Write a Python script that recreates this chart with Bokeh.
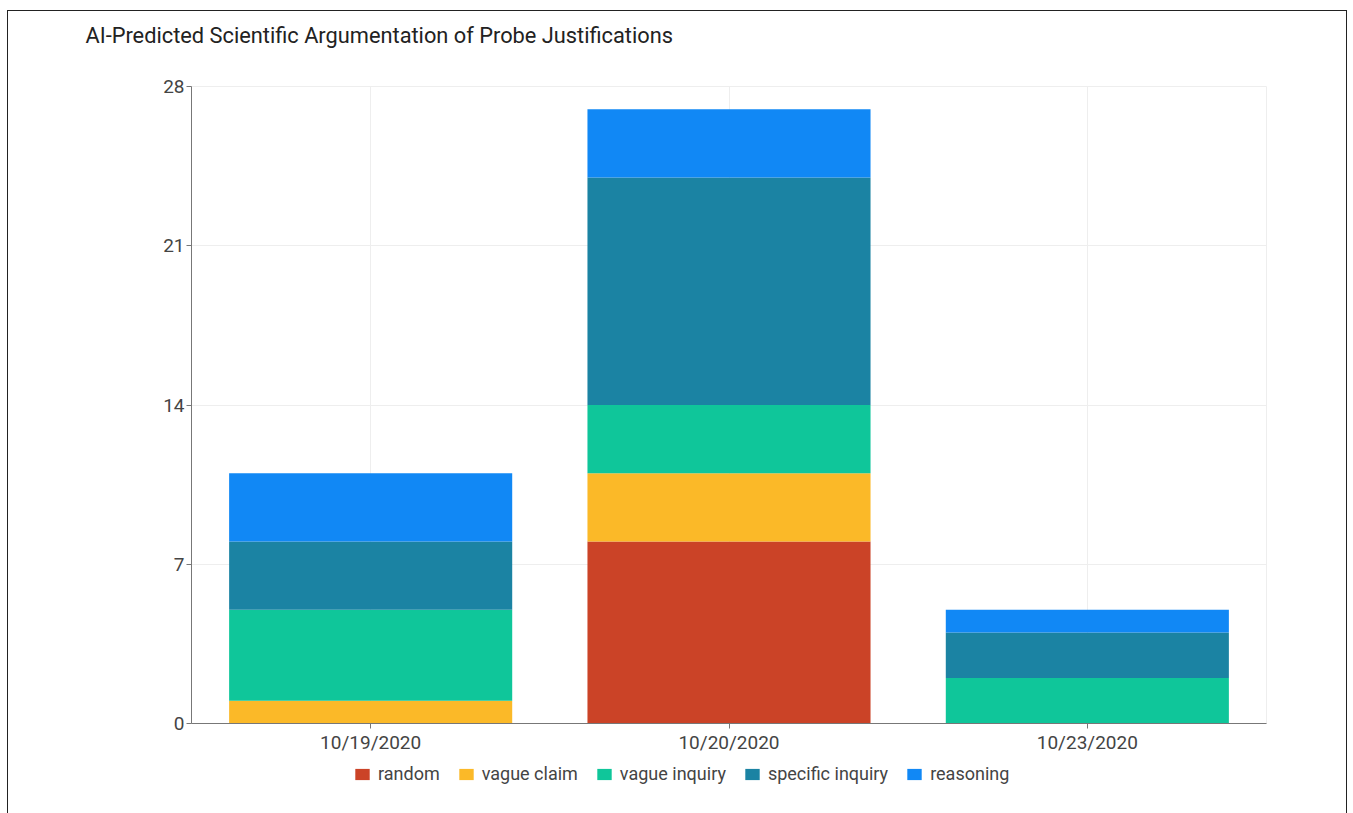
from bokeh.plotting import figure
from bokeh.models import ColumnDataSource, Legend, LegendItem, FixedTicker, Title, Range1d
from bokeh.layouts import column
from bokeh.embed import file_html
from bokeh.resources import INLINE

dates = ["10/19/2020", "10/20/2020", "10/23/2020"]
categories = ["random", "vague claim", "vague inquiry", "specific inquiry", "reasoning"]
random_vals = [0, 8, 0]
vague_claim = [1, 3, 0]
vague_inquiry = [4, 3, 2]
specific_inquiry = [3, 10, 2]
reasoning = [3, 3, 1]
y_ticks = [0, 7, 14, 21, 28]

colors = ["#cb4327", "#fbb928", "#0fc69a", "#1b83a3", "#1188f5"]
keys = ["random", "vague_claim", "vague_inquiry", "specific_inquiry", "reasoning"]

source = ColumnDataSource(dict(
    date=dates,
    random=random_vals,
    vague_claim=vague_claim,
    vague_inquiry=vague_inquiry,
    specific_inquiry=specific_inquiry,
    reasoning=reasoning,
))

FONT = "Roboto"
TXT = "#444444"

p = figure(x_range=dates, y_range=(0, 28), width=1338, height=682,
           output_backend="svg", toolbar_location=None,
           min_border_left=183, min_border_right=80, min_border_top=10,
           min_border_bottom=35)

renderers = p.vbar_stack(keys, x="date", width=0.79, color=colors, source=source,
                         line_width=0)

p.x_range.range_padding = 0

p.yaxis.ticker = FixedTicker(ticks=y_ticks)
p.yaxis.minor_tick_line_color = None
for ax in (p.xaxis[0], p.yaxis[0]):
    ax.axis_line_color = "#777777"
    ax.major_tick_line_color = "#777777"
    ax.major_tick_in = 0
    ax.major_tick_out = 5
    ax.major_label_text_font = FONT
    ax.major_label_text_font_size = "19px"
    ax.major_label_text_color = TXT
    ax.major_label_standoff = 2

p.xgrid.grid_line_color = "#eeeeee"
p.ygrid.grid_line_color = "#eeeeee"
p.outline_line_color = "#eeeeee"
p.background_fill_color = "white"
p.border_fill_color = "white"

# title strip above the chart
tf = figure(width=1338, height=65, output_backend="svg", toolbar_location=None,
            x_range=p.x_range, y_range=Range1d(0, 1), min_border=0)
tf.axis.visible = False
tf.grid.visible = False
tf.outline_line_color = None
tf.border_fill_color = "white"
tf.title = Title(text="AI-Predicted Scientific Argumentation of Probe Justifications",
                 align="left", offset=-106, text_font=FONT, text_font_size="21.8px",
                 text_font_style="normal", text_color="#222222", standoff=22,
                 vertical_align="top")

# legend strip below the chart (proxy bars drawn outside its visible range)
lf = figure(width=1338, height=56, output_backend="svg", toolbar_location=None,
            x_range=p.x_range, y_range=Range1d(100, 101), min_border=0)
lf.axis.visible = False
lf.grid.visible = False
lf.outline_line_color = None
lf.border_fill_color = "white"
leg_renderers = lf.vbar_stack(keys, x="date", width=0.79, color=colors, source=source,
                              line_width=0)

legend = Legend(items=[LegendItem(label=c, renderers=[r]) for c, r in zip(categories, leg_renderers)],
                orientation="horizontal", location=(162, 30),
                glyph_width=18, glyph_height=14, label_standoff=7, spacing=17,
                padding=0, margin=0, border_line_color=None, background_fill_alpha=0,
                label_text_font=FONT, label_text_font_size="18px", label_text_color=TXT)
lf.add_layout(legend)

layout = column(tf, p, lf, spacing=0)
layout.styles = {"margin-left": "7px", "margin-top": "10px", "border": "1px solid #222222",
                 "border-bottom": "none"}

open("out.html", "w").write(file_html(layout, INLINE))
